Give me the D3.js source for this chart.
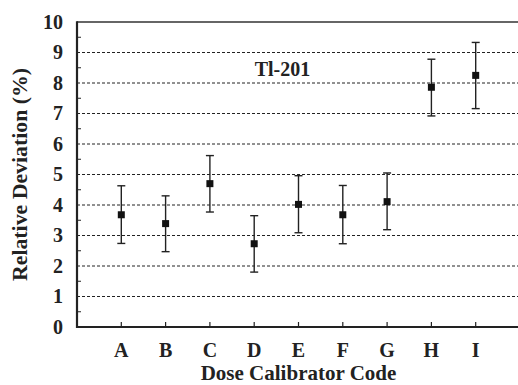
<!DOCTYPE html>
<html>
<head>
<meta charset="utf-8">
<script src="https://cdn.jsdelivr.net/npm/d3@7"></script>
<style>
  html, body { margin: 0; padding: 0; background: #fff; }
  svg { display: block; }
</style>
</head>
<body>
<svg id="chart" width="518" height="385"></svg>
<script>
const categories = ["A", "B", "C", "D", "E", "F", "G", "H", "I"];
const values     = [3.68, 3.39, 4.70, 2.73, 4.02, 3.68, 4.11, 7.86, 8.25];
const upper      = [4.63, 4.30, 5.62, 3.65, 4.96, 4.64, 5.05, 8.78, 9.33];
const lower      = [2.74, 2.47, 3.77, 1.80, 3.09, 2.73, 3.19, 6.92, 7.16];
const yTicks     = [0, 1, 2, 3, 4, 5, 6, 7, 8, 9, 10];
const gridValues = [1, 2, 3, 4, 5, 6, 7, 8, 9];
const minorTicks = [0.5, 1.5, 2.5, 3.5, 4.5, 5.5, 6.5, 7.5, 8.5, 9.5];
const seriesLabel = "Tl-201";
const xTitle = "Dose Calibrator Code";
const yTitle = "Relative Deviation (%)";

const FONT = "'Liberation Serif', 'Tinos', 'DejaVu Serif', serif";
const svg = d3.select("#chart");
const ink = "#222";

const x = d3.scaleLinear().domain([0, 10]).range([77, 520]);
const y = d3.scaleLinear().domain([0, 10]).range([327, 22]);

function label(sel, size) {
  return sel.attr("font-family", FONT).attr("font-weight", "bold")
    .attr("font-size", size || 20).attr("fill", ink);
}

// gridlines
svg.append("g").selectAll("line").data(gridValues).join("line")
  .attr("x1", x(0)).attr("x2", 518)
  .attr("y1", d => y(d)).attr("y2", d => y(d))
  .attr("stroke", ink).attr("stroke-width", 1)
  .attr("stroke-dasharray", "3,2");

// top border
svg.append("line")
  .attr("x1", x(0)).attr("x2", 518)
  .attr("y1", y(10)).attr("y2", y(10))
  .attr("stroke", "#333").attr("stroke-width", 1.5);

// minor y ticks (inward)
svg.append("g").selectAll("line").data(minorTicks).join("line")
  .attr("x1", x(0)).attr("x2", x(0) + 4)
  .attr("y1", d => y(d)).attr("y2", d => y(d))
  .attr("stroke", ink).attr("stroke-width", 1);

// x ticks (inward)
svg.append("g").selectAll("line").data(categories).join("line")
  .attr("x1", (d, i) => x(i + 1)).attr("x2", (d, i) => x(i + 1))
  .attr("y1", y(0)).attr("y2", y(0) - 5)
  .attr("stroke", ink).attr("stroke-width", 1.2);

// axes lines
svg.append("line")
  .attr("x1", x(0)).attr("x2", x(0))
  .attr("y1", y(10) - 0.75).attr("y2", y(0) + 1)
  .attr("stroke", ink).attr("stroke-width", 2.2);
svg.append("line")
  .attr("x1", x(0) - 1).attr("x2", 518)
  .attr("y1", y(0)).attr("y2", y(0))
  .attr("stroke", ink).attr("stroke-width", 2.2);

// y tick labels
label(svg.append("g").selectAll("text").data(yTicks).join("text"))
  .attr("x", 63).attr("y", d => y(d))
  .attr("dy", "0.34em")
  .attr("text-anchor", "end")
  .text(d => d);

// x tick labels
label(svg.append("g").selectAll("text").data(categories).join("text"))
  .attr("x", (d, i) => x(i + 1)).attr("y", 357)
  .attr("text-anchor", "middle")
  .text(d => d);

// axis titles
label(svg.append("text"), 21)
  .attr("x", x(5)).attr("y", 379.5)
  .attr("text-anchor", "middle")
  .text(xTitle);
label(svg.append("text"), 21.8)
  .attr("transform", `translate(27, ${(y(0) + y(10)) / 2}) rotate(-90)`)
  .attr("text-anchor", "middle")
  .text(yTitle);

// series label
label(svg.append("text"))
  .attr("x", 282.5).attr("y", 76)
  .attr("text-anchor", "middle")
  .text(seriesLabel);

// error bars
const eb = svg.append("g");
categories.forEach((c, i) => {
  const cx = x(i + 1);
  eb.append("line").attr("x1", cx).attr("x2", cx)
    .attr("y1", y(upper[i])).attr("y2", y(lower[i]))
    .attr("stroke", ink).attr("stroke-width", 1.4);
  [upper[i], lower[i]].forEach(v => {
    eb.append("line").attr("x1", cx - 4).attr("x2", cx + 4)
      .attr("y1", y(v)).attr("y2", y(v))
      .attr("stroke", ink).attr("stroke-width", 1.4);
  });
});

// markers
svg.append("g").selectAll("rect").data(values).join("rect")
  .attr("x", (d, i) => x(i + 1) - 3.5)
  .attr("y", d => y(d) - 3.5)
  .attr("width", 7).attr("height", 7)
  .attr("fill", "#111");
</script>
</body>
</html>
